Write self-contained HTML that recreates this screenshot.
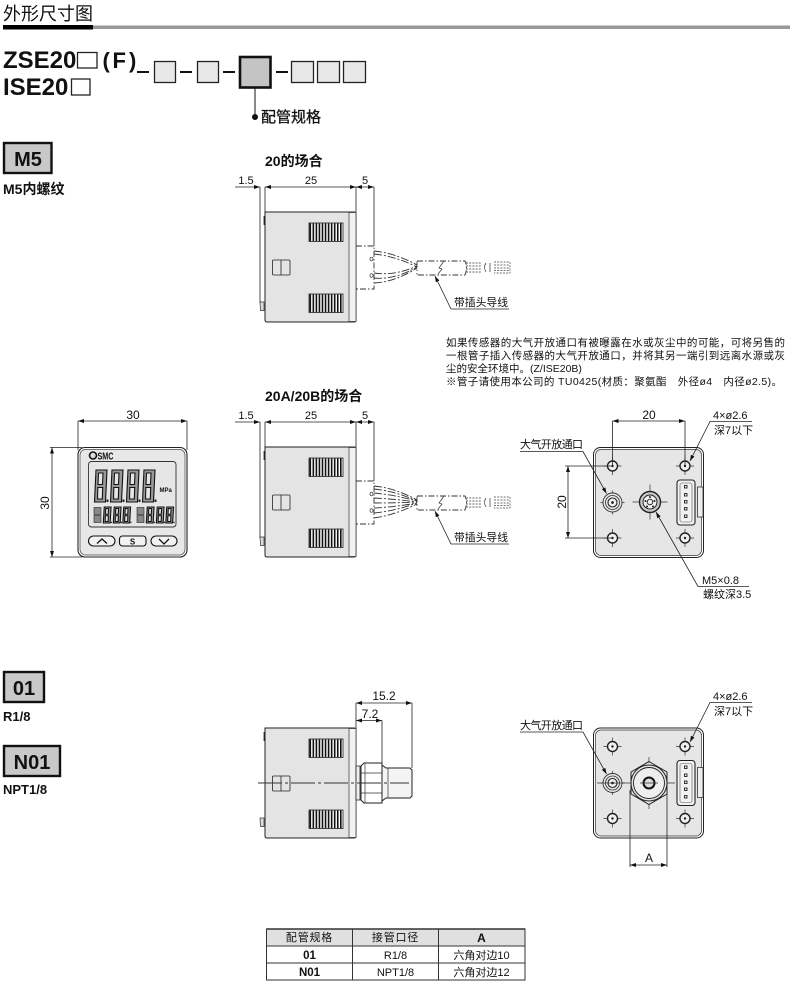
<!DOCTYPE html>
<html lang="zh"><head><meta charset="utf-8"><title>外形尺寸图</title>
<style>
html,body{margin:0;padding:0;background:#fff}
svg{display:block;filter:blur(.35px)}
text{font-family:"Liberation Sans","Noto Sans CJK SC",sans-serif;fill:#111}
.d{font-size:11px;text-anchor:middle}
.l{font-size:11px}
.b{font-weight:bold}
.ln{stroke:#222;stroke-width:.8;fill:none}
.thin{stroke:#333;stroke-width:.7;fill:none}
.dash{stroke:#333;stroke-width:.9;fill:none;stroke-dasharray:6 2 1.5 2}
</style></head><body>
<svg width="790" height="987" viewBox="0 0 790 987" xmlns="http://www.w3.org/2000/svg">
<defs>
<marker id="a" viewBox="0 0 6 4" refX="6" refY="2" markerWidth="6" markerHeight="4" markerUnits="userSpaceOnUse" orient="auto-start-reverse"><path d="M0 0L6 2L0 4Z" fill="#111"/></marker>

<g id="vent">
  <rect x="0" y="0" width="34" height="18.5" fill="#fff" stroke="#222" stroke-width=".8"/>
  <line x1="0.5" y1="9.25" x2="33.5" y2="9.25" stroke="#111" stroke-width="18" stroke-dasharray="1.6 1.45"/>
</g>

<g id="side">
  <path d="M265 212H354Q356 212 356 214V320Q356 322 354 322H267Q265 322 265 320Z" fill="#e4e4e4" stroke="#222" stroke-width="1"/>
  <rect x="349" y="212.5" width="7" height="109" fill="#f2f2f2" stroke="#333" stroke-width=".7"/>
  <use href="#vent" x="309" y="223"/>
  <use href="#vent" x="309" y="294"/>
  <rect x="272.5" y="260" width="17.5" height="15" rx="1" fill="none" stroke="#222" stroke-width=".8"/>
  <line x1="281" y1="260" x2="281" y2="275" stroke="#222" stroke-width=".8"/>
  <rect x="263.6" y="216" width="1.6" height="9" fill="#222"/>
  <path d="M260 302H264V310.500H260.500Z" fill="#ddd" stroke="#333" stroke-width=".7"/>
</g>

<g id="plug">
  <path class="dash" d="M356 246H374V289H356"/>
  <path class="dash" d="M417 261.500V274.500M417 261H465Q468 267 465 275H417"/>
  <path class="thin" d="M438 274L442 269L439 268L444 261"/>
  <path d="M466 263H482M466 266H482M466 269H482M466 272H482" stroke="#333" stroke-width=".8" stroke-dasharray="2 1.2" fill="none"/>
  <path d="M486 263Q483 267 486 272M490 263V272" class="thin"/>
  <path d="M494 262H510V273H494M494 265H510M494 268H510M494 270.500H510M510 262V273" stroke="#444" stroke-width=".7" stroke-dasharray="2 1.200" fill="none"/>
  <line x1="435" y1="276" x2="451" y2="309" class="ln" marker-start="url(#a)"/>
  <line x1="451" y1="309" x2="509" y2="309" class="ln"/>
</g>

<g id="hole">
  <path d="M-9 0H9M0 -9V9" stroke="#333" stroke-width=".7"/>
  <circle r="5" fill="#f0f0f0" stroke="#222" stroke-width="1.400"/>
  <circle r="1.200" fill="#222"/>
</g>

<g id="vport">
  <path d="M-12 0H12M0 -12V12" stroke="#333" stroke-width=".7"/>
  <circle r="9.500" fill="#e6e6e6" stroke="#333" stroke-width=".9"/>
  <circle r="7" fill="none" stroke="#333" stroke-width=".8"/>
  <circle r="4.500" fill="#f3f3f3" stroke="#222" stroke-width="1.100"/>
  <circle r="1.400" fill="#222"/>
</g>

<g id="rear">
  <rect x="593.500" y="0.500" width="110" height="110" rx="7" fill="#fff" stroke="#222" stroke-width="1"/>
  <rect x="595.500" y="2.500" width="106" height="106" rx="5.500" fill="#e6e6e6" stroke="#333" stroke-width=".7"/>
  <rect x="697.500" y="40" width="5.500" height="30" fill="#eee" stroke="#333" stroke-width=".8"/>
  <rect x="677" y="33" width="18" height="45" rx="3" fill="#f2f2f2" stroke="#222" stroke-width="1.100"/>
  <rect x="680" y="36" width="12" height="39" rx="2" fill="none" stroke="#555" stroke-width=".6"/>
  <g fill="#eee" stroke="#222" stroke-width=".9">
    <rect x="684.500" y="38.500" width="2.500" height="2.500"/><rect x="684.500" y="46.500" width="2.500" height="2.500"/><rect x="684.500" y="53.500" width="2.500" height="2.500"/><rect x="684.500" y="60.500" width="2.500" height="2.500"/><rect x="684.500" y="68" width="2.500" height="2.500"/>
  </g>
  <use href="#hole" x="612.500" y="19"/>
  <use href="#hole" x="685" y="19"/>
  <use href="#hole" x="612.500" y="91"/>
  <use href="#hole" x="685" y="91"/>
  <use href="#vport" x="612.500" y="55.500"/>
</g>

<g id="d8">
  <path vector-effect="non-scaling-stroke" d="M2 0H13L11.500 32H0.500ZM4.500 3L4 14.500H8.500L9 3ZM3.800 17.500L3.500 29H8.300L8.700 17.500Z" fill="#999" fill-rule="evenodd" stroke="#111" stroke-width="1.100"/>
  <rect x="12.500" y="29.500" width="2" height="2.500" fill="#222"/>
</g>
<g id="d8s" transform="scale(.62 .5)"><use href="#d8"/></g>
<g id="dgroup">
  <rect x="0" y="0.500" width="7" height="7" fill="#888" stroke="#222" stroke-width=".6"/><rect x="0" y="8.500" width="7" height="7" fill="#888" stroke="#222" stroke-width=".6"/>
  <use href="#d8s" x="9"/><use href="#d8s" x="19"/><use href="#d8s" x="28.500"/>
</g>
</defs>

<!-- header -->
<text x="3" y="20" style="font-size:18px">外形尺寸图</text>
<rect x="93" y="25.500" width="697" height="3.500" fill="#999"/>
<rect x="3" y="25" width="90" height="4.500" fill="#000"/>

<!-- model code -->
<text x="3" y="68" class="b" style="font-size:24px">ZSE20</text>
<rect x="77.500" y="52.500" width="19.500" height="15.500" fill="#fff" stroke="#222" stroke-width="1.300"/>
<text x="102.500" y="68" class="b" style="font-size:22px">(</text>
<text x="112.500" y="68" class="b" style="font-size:22px">F</text>
<text x="129" y="68" class="b" style="font-size:22px">)</text>
<text x="3" y="95" class="b" style="font-size:24px">ISE20</text>
<rect x="71.500" y="79" width="18.500" height="16" fill="#fff" stroke="#222" stroke-width="1.300"/>
<g fill="#e8e8e8" stroke="#222" stroke-width="1.300">
  <rect x="154.500" y="61.500" width="21" height="21"/>
  <rect x="197.500" y="61.500" width="21" height="21"/>
  <rect x="291.500" y="61.500" width="22" height="21"/>
  <rect x="317.500" y="61.500" width="22" height="21"/>
  <rect x="343.500" y="61.500" width="22" height="21"/>
</g>
<rect x="240" y="57" width="30.500" height="30.500" fill="#c4c4c4" stroke="#111" stroke-width="2.600"/>
<g fill="#111"><rect x="137" y="71" width="12" height="2"/><rect x="180" y="71" width="12" height="2"/><rect x="223" y="71" width="12" height="2"/><rect x="276" y="71" width="12" height="2"/></g>
<line x1="255" y1="88" x2="255" y2="117" stroke="#111" stroke-width="1"/>
<circle cx="255" cy="117" r="3" fill="#111"/>
<text x="261" y="122" style="font-size:15px;stroke:#111;stroke-width:.3">配管规格</text>

<!-- M5 -->
<rect x="4" y="143" width="47.500" height="30" fill="#c8c8c8" stroke="#111" stroke-width="2.400"/>
<text x="28" y="166" class="b" text-anchor="middle" style="font-size:20px">M5</text>
<text x="3" y="194" class="b" style="font-size:14px">M5内螺纹</text>

<!-- 01 / N01 -->
<rect x="4" y="672" width="40" height="30" fill="#c8c8c8" stroke="#111" stroke-width="2.400"/>
<text x="24" y="695" class="b" text-anchor="middle" style="font-size:20px">01</text>
<text x="3" y="721" class="b" style="font-size:13px">R1/8</text>
<rect x="4" y="746" width="56" height="30" fill="#c8c8c8" stroke="#111" stroke-width="2.400"/>
<text x="32" y="769" class="b" text-anchor="middle" style="font-size:20px">N01</text>
<text x="3" y="794" class="b" style="font-size:13px">NPT1/8</text>

<!-- side view 1 -->
<text x="265" y="166" class="b" style="font-size:14px">20的场合</text>
<g class="ln">
  <line x1="260" y1="187" x2="260" y2="303"/><line x1="265" y1="187" x2="265" y2="213"/><line x1="356" y1="187" x2="356" y2="213"/><line x1="374" y1="187" x2="374" y2="246"/>
  <line x1="235" y1="187" x2="260" y2="187" marker-end="url(#a)"/>
  <line x1="265" y1="187" x2="356" y2="187" marker-start="url(#a)" marker-end="url(#a)"/>
  <line x1="356" y1="187" x2="374" y2="187" marker-start="url(#a)" marker-end="url(#a)"/>
</g>
<text x="246" y="184" class="d">1.5</text><text x="311" y="184" class="d">25</text><text x="365" y="184" class="d">5</text>
<use href="#side"/><use href="#plug"/>
<g stroke="#333" stroke-width=".9" fill="none" stroke-dasharray="8 2 2 2">
  <path d="M374 251Q395 253 417 265M374 254Q395 256 417 267"/>
  <path d="M374 283Q395 282 417 268M374 278Q395 280 417 267M374 273Q395 276 417 266"/>
</g>
<ellipse cx="371.500" cy="259" rx="1.500" ry="1.800" class="thin"/><ellipse cx="371.500" cy="275.500" rx="1.500" ry="1.800" class="thin"/>
<text x="454" y="306" class="l" textLength="54" lengthAdjust="spacingAndGlyphs">带插头导线</text>

<!-- note -->
<g style="font-size:10.500px">
<text x="446" y="346" style="font-size:10.500px" textLength="339" lengthAdjust="spacing">如果传感器的大气开放通口有被曝露在水或灰尘中的可能，可将另售的</text>
<text x="446" y="359" style="font-size:10.500px" textLength="339" lengthAdjust="spacing">一根管子插入传感器的大气开放通口，并将其另一端引到远离水源或灰</text>
<text x="446" y="372" style="font-size:10.500px">尘的安全环境中。(Z/ISE20B)</text>
<text x="446" y="385" style="font-size:10.500px" textLength="336" lengthAdjust="spacing">※管子请使用本公司的 TU0425(材质：聚氨酯　外径ø4　内径ø2.5)。</text>
</g>

<!-- side view 2 -->
<text x="265" y="401" class="b" style="font-size:14px">20A/20B的场合</text>
<g class="ln">
  <line x1="260" y1="422" x2="260" y2="538"/><line x1="265" y1="422" x2="265" y2="448"/><line x1="356" y1="422" x2="356" y2="448"/><line x1="374" y1="422" x2="374" y2="481"/>
  <line x1="235" y1="422" x2="260" y2="422" marker-end="url(#a)"/>
  <line x1="265" y1="422" x2="356" y2="422" marker-start="url(#a)" marker-end="url(#a)"/>
  <line x1="356" y1="422" x2="374" y2="422" marker-start="url(#a)" marker-end="url(#a)"/>
</g>
<text x="246" y="419" class="d">1.5</text><text x="311" y="419" class="d">25</text><text x="365" y="419" class="d">5</text>
<g transform="translate(0 235)"><use href="#side"/><use href="#plug"/>
<g stroke="#333" stroke-width=".9" fill="none" stroke-dasharray="8 2 2 2">
  <path d="M374 251Q395 253 417 265M374 254Q395 256 417 266M374 258Q395 260 417 266M374 263Q395 264 417 267M374 268Q395 268 417 267M374 273Q395 272 417 268M374 278Q395 276 417 268M374 283Q395 280 417 269"/>
</g>
<ellipse cx="371.500" cy="259" rx="1.500" ry="1.800" class="thin"/><ellipse cx="371.500" cy="275.500" rx="1.500" ry="1.800" class="thin"/>
</g>
<text x="454" y="541" class="l" textLength="54" lengthAdjust="spacingAndGlyphs">带插头导线</text>

<!-- front view -->
<g class="ln">
  <line x1="78" y1="421" x2="78" y2="450"/><line x1="187" y1="421" x2="187" y2="450"/>
  <line x1="78" y1="421" x2="187" y2="421" marker-start="url(#a)" marker-end="url(#a)"/>
  <line x1="50" y1="447.500" x2="82" y2="447.500"/><line x1="50" y1="557" x2="82" y2="557"/>
  <line x1="52" y1="447.500" x2="52" y2="557" marker-start="url(#a)" marker-end="url(#a)"/>
</g>
<text x="133" y="419" class="d" style="font-size:12px">30</text>
<text transform="translate(49 503) rotate(-90)" class="d" style="font-size:12px">30</text>
<rect x="78" y="447.500" width="109" height="109.500" rx="7" fill="#fff" stroke="#222" stroke-width="1.100"/>
<rect x="80" y="449.500" width="105" height="105.500" rx="5.500" fill="#e8e8e8" stroke="#444" stroke-width=".7"/>
<circle cx="93" cy="455.500" r="3.500" fill="#ddd" stroke="#111" stroke-width="1.600"/>
<text x="97.500" y="459.500" class="b" style="font-size:10px" textLength="16" lengthAdjust="spacingAndGlyphs">SMC</text>
<rect x="88.500" y="461.500" width="87.500" height="65.500" rx="3" fill="#e6e6e6" stroke="#333" stroke-width=".9"/>
<use href="#d8" x="94" y="470"/><use href="#d8" x="110" y="470"/><use href="#d8" x="126" y="470"/><use href="#d8" x="142" y="470"/>
<text x="159.500" y="492" class="b" style="font-size:6px">MPa</text>
<use href="#dgroup" x="94" y="507"/><use href="#dgroup" x="137" y="507"/>
<g fill="#f2f2f2" stroke="#111" stroke-width="1.100">
  <rect x="88.500" y="536" width="26.500" height="10" rx="5"/>
  <rect x="119.500" y="536" width="26.500" height="10" rx="3"/>
  <rect x="151" y="536" width="26" height="10" rx="5"/>
</g>
<path d="M97 543.500L102 539L107 543.500M159 539L164 544L169 539" fill="none" stroke="#111" stroke-width="1.300"/>
<text x="132.500" y="544.500" class="b" text-anchor="middle" style="font-size:8px">S</text>

<!-- rear view 1 -->
<use href="#rear" x="0" y="447"/>
<path d="M632.500 502H667.500M650 484.500V519.500" stroke="#333" stroke-width=".7"/>
<circle cx="650" cy="502" r="10.500" fill="#c8c8c8" stroke="#222" stroke-width="1.400"/>
<circle cx="650" cy="502" r="7" fill="#f0f0f0" stroke="#222" stroke-width="1"/>
<circle cx="650" cy="502" r="2.800" fill="#eee" stroke="#222" stroke-width=".9"/>
<g fill="#222"><circle cx="650" cy="497" r="1"/><circle cx="645.500" cy="501" r="1"/><circle cx="654.500" cy="501" r="1"/><circle cx="647" cy="506.500" r="1"/><circle cx="653" cy="506.500" r="1"/></g>
<g class="ln">
  <line x1="612.500" y1="421" x2="612.500" y2="466"/><line x1="685" y1="421" x2="685" y2="466"/>
  <line x1="612.500" y1="421" x2="685" y2="421" marker-start="url(#a)" marker-end="url(#a)"/>
  <line x1="565" y1="466" x2="612" y2="466"/><line x1="565" y1="538" x2="612" y2="538"/>
  <line x1="568" y1="466" x2="568" y2="538" marker-start="url(#a)" marker-end="url(#a)"/>
  <path d="M752 421.500H710L690 461" marker-end="url(#a)"/>
  <path d="M520 451.500H583L606.500 493.500" marker-end="url(#a)"/>
  <path d="M749 586.500H698L656 512" marker-end="url(#a)"/>
</g>
<text x="649" y="419" class="d" style="font-size:12px">20</text>
<text transform="translate(566 502) rotate(-90)" class="d" style="font-size:12px">20</text>
<text x="713" y="419" class="l">4×ø2.6</text>
<text x="714" y="434" class="l">深7以下</text>
<text x="520" y="448" class="l" textLength="63" lengthAdjust="spacing">大气开放通口</text>
<text x="702" y="584" class="l">M5×0.8</text>
<text x="703" y="598" class="l">螺纹深3.5</text>

<!-- side view 3 -->
<g transform="translate(0 516)"><use href="#side"/></g>
<path d="M356 766H360V800H356Z" fill="#eee" stroke="#222" stroke-width=".8"/>
<path d="M361 766L364 763H382V803H364L361 800Z" fill="#fff" stroke="#222" stroke-width="1"/>
<path d="M361 773H382M361 793H382M365 763V803" class="thin"/>
<path d="M382 765L386 768H410L412 770V796L410 798H386L382 801Z" fill="#f4f4f4" stroke="#222" stroke-width="1"/>
<line x1="388" y1="768" x2="388" y2="798" class="thin"/>
<line x1="258" y1="783" x2="409" y2="783" stroke="#333" stroke-width=".9" stroke-dasharray="24 3 3 3"/>
<g class="ln">
  <line x1="356" y1="703" x2="356" y2="729"/><line x1="412" y1="703" x2="412" y2="768"/><line x1="382" y1="720.500" x2="382" y2="764"/>
  <line x1="356" y1="703" x2="412" y2="703" marker-start="url(#a)" marker-end="url(#a)"/>
  <line x1="356" y1="720.500" x2="382" y2="720.500" marker-start="url(#a)" marker-end="url(#a)"/>
</g>
<text x="384" y="700" class="d" style="font-size:12px">15.2</text>
<text x="370" y="718" class="d" style="font-size:12px">7.2</text>

<!-- rear view 3 -->
<use href="#rear" x="0" y="727.500"/>
<line x1="597" y1="783" x2="675" y2="783" stroke="#333" stroke-width=".7"/>
<line x1="649" y1="757" x2="649" y2="809" stroke="#333" stroke-width=".7"/>
<path d="M649 761.500L667 772V794L649 804.500L631 794V772Z" fill="#e4e4e4" stroke="#222" stroke-width="1"/>
<circle cx="649" cy="783" r="18" fill="#e4e4e4" stroke="#222" stroke-width="1"/>
<circle cx="649" cy="783" r="15.500" fill="#eee" stroke="#222" stroke-width=".9"/>
<circle cx="649" cy="783" r="5.500" fill="#ddd" stroke="#111" stroke-width="2"/>
<line x1="640" y1="783" x2="658" y2="783" stroke="#333" stroke-width=".7"/>
<g class="ln">
  <line x1="630" y1="790" x2="630" y2="867"/><line x1="667" y1="790" x2="667" y2="867"/>
  <line x1="630" y1="865" x2="667" y2="865" marker-start="url(#a)" marker-end="url(#a)"/>
  <path d="M752 702.500H710L690 742" marker-end="url(#a)"/>
  <path d="M520 732H583L606.500 774" marker-end="url(#a)"/>
</g>
<text x="649" y="862" class="d" style="font-size:12px">A</text>
<text x="713" y="700" class="l">4×ø2.6</text>
<text x="714" y="715" class="l">深7以下</text>
<text x="520" y="729" class="l" textLength="63" lengthAdjust="spacing">大气开放通口</text>

<!-- table -->
<rect x="266.500" y="929" width="258.500" height="17" fill="#e0e0e0"/>
<g stroke="#333" stroke-width="1" fill="none">
  <path d="M266.500 929H525V980H266.500ZM266.500 946H525M266.500 963H525M352.500 929V980M438.500 929V980"/>
  <line x1="266.500" y1="929" x2="525" y2="929" stroke-width="1.500"/>
</g>
<g style="font-size:11px" text-anchor="middle">
<text x="309.500" y="941" style="font-size:11px" letter-spacing=".8">配管规格</text>
<text x="395.500" y="941" style="font-size:11px" letter-spacing=".8">接管口径</text>
<text x="481.500" y="942" class="b" style="font-size:12px">A</text>
<text x="309.500" y="959" class="b" style="font-size:11.500px">01</text>
<text x="395.500" y="959" style="font-size:11px">R1/8</text>
<text x="481.500" y="959" style="font-size:11px">六角对边10</text>
<text x="309.500" y="976" class="b" style="font-size:11.500px">N01</text>
<text x="395.500" y="976" style="font-size:11px">NPT1/8</text>
<text x="481.500" y="976" style="font-size:11px">六角对边12</text>
</g>
</svg>
</body></html>
